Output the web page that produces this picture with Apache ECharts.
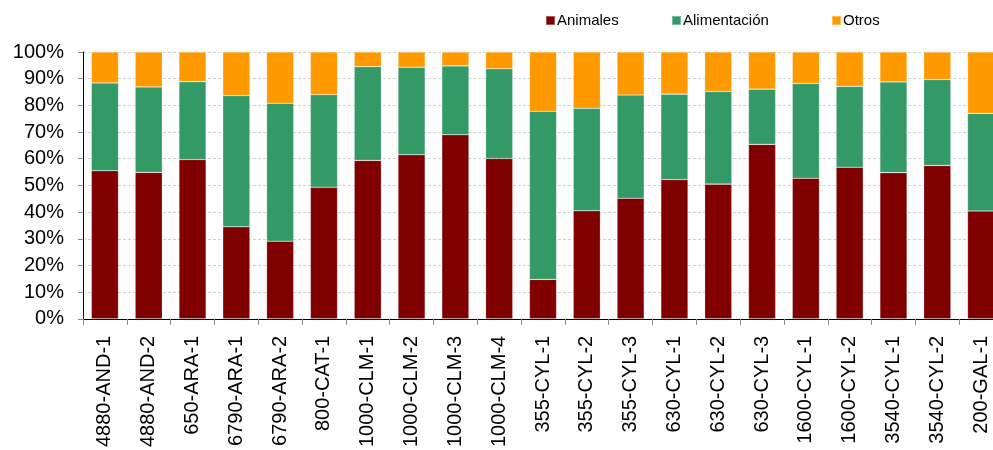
<!DOCTYPE html>
<html><head><meta charset="utf-8">
<script src="https://cdn.jsdelivr.net/npm/echarts@6/dist/echarts.min.js"></script>
<style>html,body{margin:0;padding:0;background:#fff;overflow:hidden;}#w{width:993px;height:450px;overflow:hidden;position:relative;}#c{width:1003px;height:450px;position:absolute;left:0;top:0;}</style>
</head><body><div id="w"><div id="c"></div></div>
<script>
var categories = ['4880-AND-1','4880-AND-2','650-ARA-1','6790-ARA-1','6790-ARA-2','800-CAT-1','1000-CLM-1','1000-CLM-2','1000-CLM-3','1000-CLM-4','355-CYL-1','355-CYL-2','355-CYL-3','630-CYL-1','630-CYL-2','630-CYL-3','1600-CYL-1','1600-CYL-2','3540-CYL-1','3540-CYL-2','200-GAL-1'];
var animales = [55.5,54.9,59.7,34.5,29.1,49.3,59.4,61.5,69.0,60.1,14.8,40.5,45.2,52.2,50.5,65.4,52.7,56.8,54.8,57.5,40.4];
var alimentacion = [32.9,32.0,29.2,49.2,51.7,34.7,35.1,32.8,25.8,33.6,63.0,38.4,38.7,32.0,34.7,20.7,35.5,30.3,34.0,32.2,36.6];
var otros = [11.6,13.1,11.1,16.3,19.2,16.0,5.5,5.7,5.2,6.3,22.2,21.1,16.1,15.8,14.8,13.9,11.8,12.9,11.2,10.3,23.0];
var seriesNames = ['Animales','Alimentación','Otros'];
var colors = ['#800000','#339966','#FF9900'];

var chart = echarts.init(document.getElementById('c'));
var font = 'Liberation Sans, Arial, sans-serif';
function mk(name, data, color){
  return {name:name, type:'bar', stack:'t', data:data, barWidth:'62%',
    itemStyle:{color:color, borderColor:'rgba(255,255,255,0.35)', borderWidth:0.6}};
}
function lg(name, left){
  return {left:left, top:13, padding:0, itemWidth:9, itemHeight:9, icon:'rect',
    textStyle:{fontFamily:font, fontSize:15, color:'#000', padding:[0,0,0,-3]},
    data:[name]};
}
chart.setOption({
  animation:false,
  color:colors,
  legend:[lg(seriesNames[0],545), lg(seriesNames[1],671), lg(seriesNames[2],831)],
  grid:{left:83, top:52, width:920, height:270, containLabel:false},
  xAxis:{type:'category', data:categories, boundaryGap:true,
    axisLine:{lineStyle:{color:'#000', width:1}},
    axisTick:{show:true, length:6, lineStyle:{color:'#888'}},
    axisLabel:{rotate:90, interval:0, margin:17, fontFamily:font, fontSize:20, color:'#000'}},
  yAxis:{type:'value', min:0, max:100, interval:10,
    axisLine:{show:true, lineStyle:{color:'#000', width:1}},
    axisTick:{show:true, length:5, lineStyle:{color:'#888'}},
    axisLabel:{formatter:'{value}%', margin:19, fontFamily:font, fontSize:20, color:'#000'},
    splitLine:{show:true, lineStyle:{color:'#d0d0d0', type:[3,2], width:1}}},
  series:[mk(seriesNames[0], animales, colors[0]), mk(seriesNames[1], alimentacion, colors[1]), mk(seriesNames[2], otros, colors[2])]
});
</script></body></html>
